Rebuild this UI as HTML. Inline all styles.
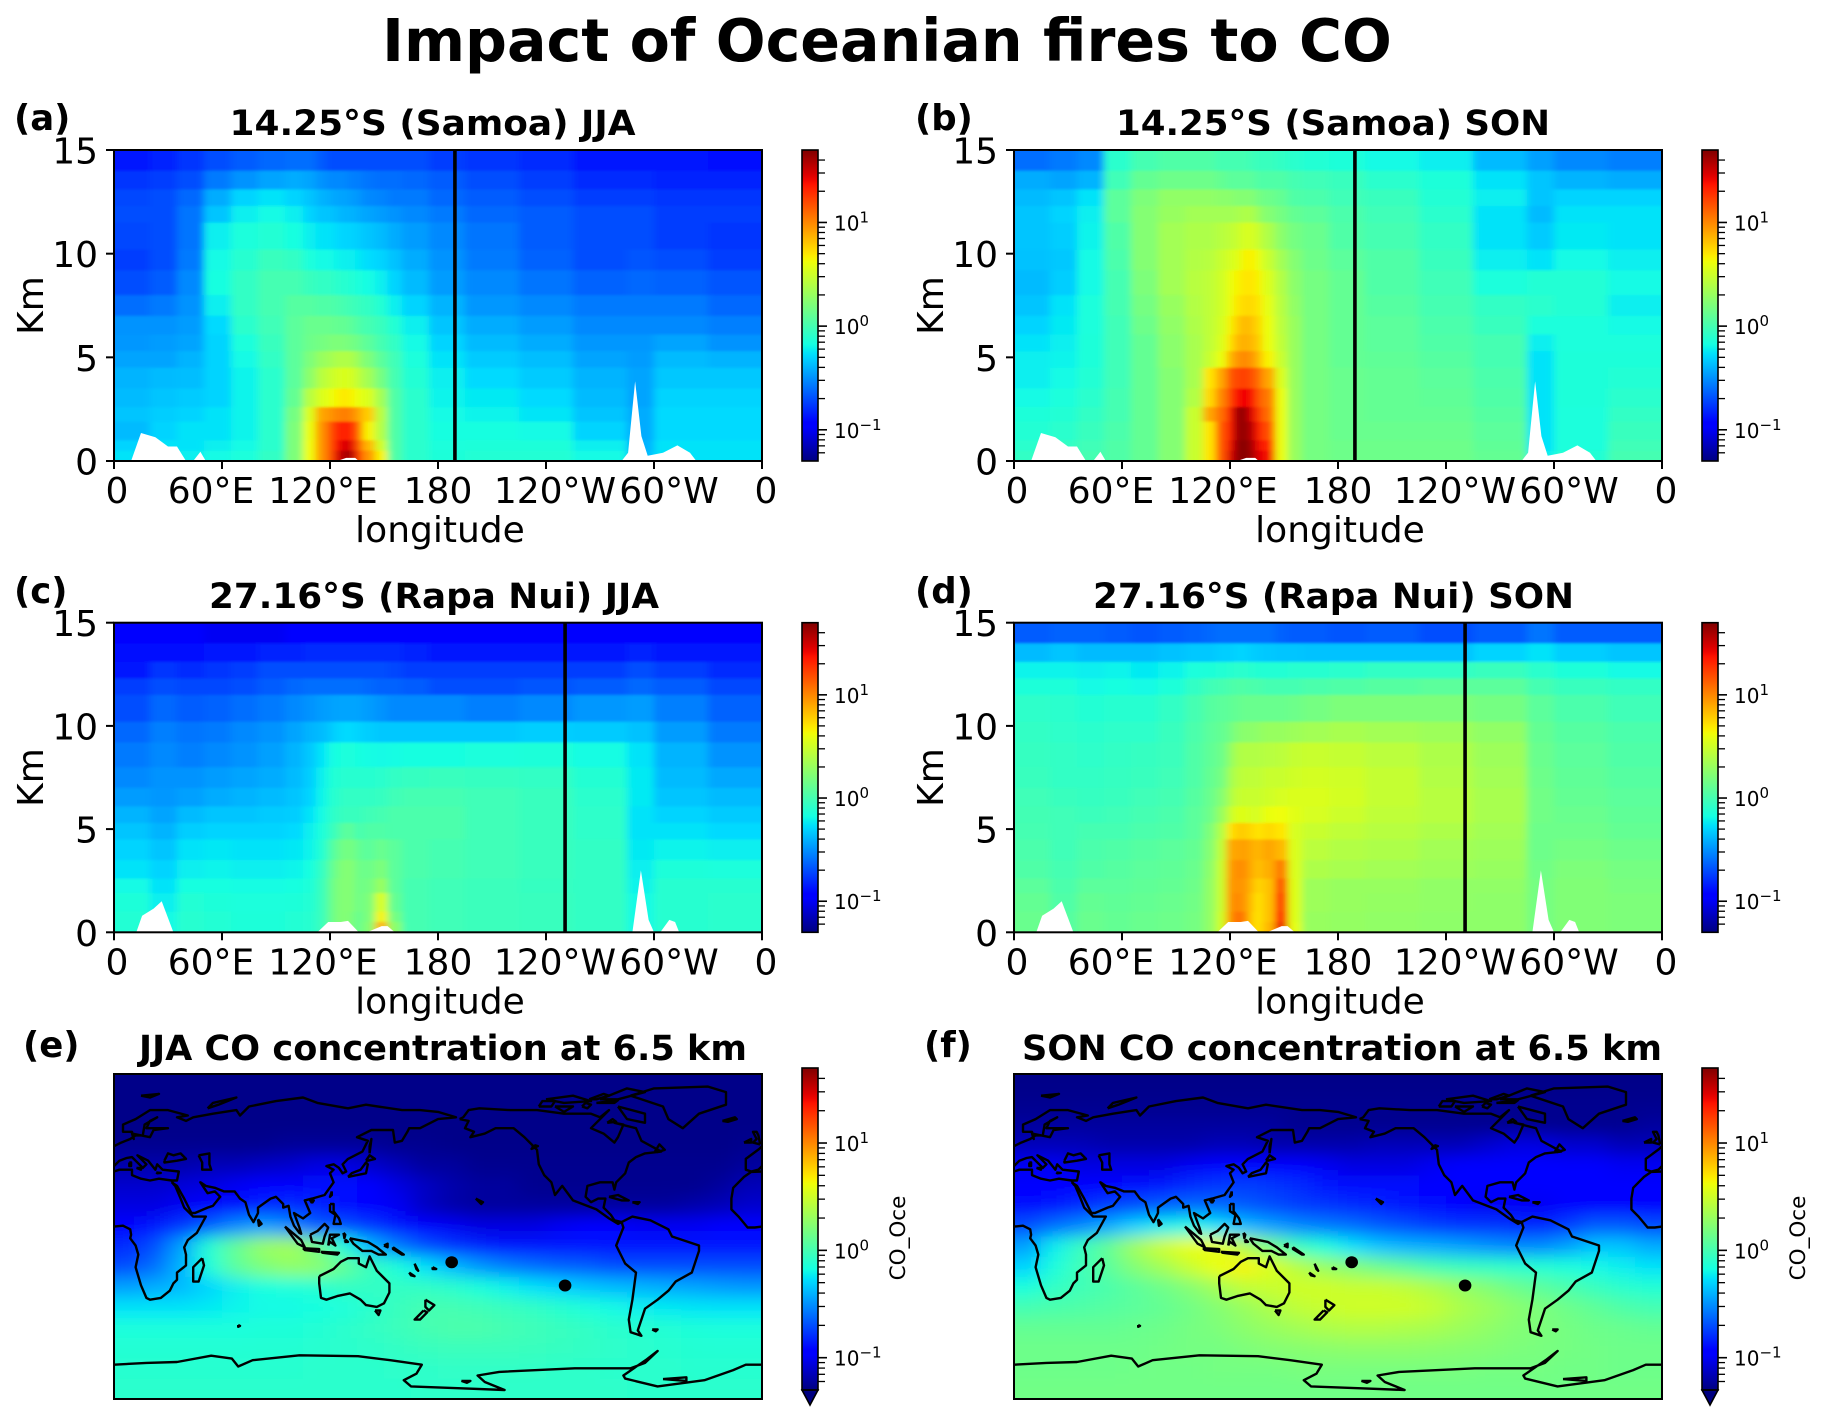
<!DOCTYPE html>
<html lang="en">
<head>
<meta charset="utf-8">
<title>Impact of Oceanian fires to CO</title>
<style>
html,body{margin:0;padding:0;background:#fff}
svg{display:block}
text{font-family:"DejaVu Sans","Liberation Sans",sans-serif;fill:#000}
.bold{font-weight:bold}
</style>
</head>
<body>
<svg id="figure" xmlns="http://www.w3.org/2000/svg" width="1827" height="1421" viewBox="0 0 1827 1421">
<defs>
<linearGradient id="jetGradient" x1="0" y1="1" x2="0" y2="0"></linearGradient>
<filter id="sectionBlur" filterUnits="userSpaceOnUse" x="0" y="0" width="1827" height="1421"><feGaussianBlur stdDeviation="4 1.2"/></filter>
<filter id="mapBlur" filterUnits="userSpaceOnUse" x="0" y="0" width="1827" height="1421"><feGaussianBlur stdDeviation="11 8"/></filter>
</defs>
<text class="bold" x="887" y="61" font-size="58.6" text-anchor="middle">Impact of Oceanian fires to CO</text>

<g id="plots"></g>

<text class="bold" x="14" y="130" font-size="35.5">(a)</text>
<text class="bold" x="915" y="130" font-size="35.5">(b)</text>
<text class="bold" x="14" y="603" font-size="35.5">(c)</text>
<text class="bold" x="915" y="603" font-size="35.5">(d)</text>
<text class="bold" x="23" y="1057" font-size="35.5">(e)</text>
<text class="bold" x="924" y="1057" font-size="35.5">(f)</text>

<text class="bold" x="229.5" y="135" font-size="35" textLength="406" lengthAdjust="spacingAndGlyphs">14.25°S (Samoa) JJA</text>
<text class="bold" x="1116" y="135" font-size="35" textLength="434" lengthAdjust="spacingAndGlyphs">14.25°S (Samoa) SON</text>
<text class="bold" x="209" y="608" font-size="35" textLength="450" lengthAdjust="spacingAndGlyphs">27.16°S (Rapa Nui) JJA</text>
<text class="bold" x="1093" y="608" font-size="35" textLength="481" lengthAdjust="spacingAndGlyphs">27.16°S (Rapa Nui) SON</text>
<text class="bold" x="139" y="1060" font-size="35" textLength="608" lengthAdjust="spacingAndGlyphs">JJA CO concentration at 6.5 km</text>
<text class="bold" x="1022" y="1060" font-size="35" textLength="640" lengthAdjust="spacingAndGlyphs">SON CO concentration at 6.5 km</text>
</svg>

<script>
/* ---------- cross-section axes ---------- */
const lonEdges = [0,20,35,50,65,80,95,105,112,118,122,126,130,134,138,145,152,160,175,195,225,255,285,300,330,360];
const altEdges = [15,14,13.1,12.3,11.5,10.2,9.2,8,7,6.1,5.3,4.5,3.5,2.6,1.9,1,0.5,0];
const xTickLons = [0,60,120,180,240,300,360];
const xTickLabels = ['0','60°E','120°E','180','120°W','60°W','0'];
const yTickKm = [0,5,10,15];
const samoaLon = 189.4;
const samoaLat = -14.25;
const samoaDotLon = 187.6;
const rapaNuiLon = 250.6;
const rapaNuiLat = -27.16;

/* ---------- terrain (white gaps) ---------- */
const terrainSamoaLon = [0,9.5,15,23,30,35,40,44,48,51,124,129,134,136,282,285.6,289.5,293,296.5,305,313,320,323.5,360];
const terrainSamoaKm  = [0,0,1.35,1.15,0.7,0.7,0,0,0.45,0,0,0.15,0.15,0,0,0.4,3.85,1.2,0.25,0.4,0.75,0.4,0,0];
const terrainRapaLon = [0,12.4,15.6,22,26.5,33,113,119,126,130,136,140.5,148.7,152,156,288,292.7,297,300,303.5,308.5,311.7,314,360];
const terrainRapaKm  = [0,0,0.8,1.15,1.5,0,0,0.5,0.5,0.55,0,0,0.3,0.3,0,0,3,0.6,0,0,0.6,0.5,0,0];

/* ---------- CO values: rows top (15 km) to bottom (0 km), columns along lonEdges ---------- */
const samoaJJA = [
[.14,.15,.17,.2,.22,.24,.25,.25,.22,.2,.2,.2,.2,.2,.2,.2,.2,.2,.18,.17,.16,.14,.14,.14,.13],
[.17,.18,.2,.27,.32,.36,.38,.36,.32,.3,.3,.3,.28,.28,.26,.25,.25,.24,.22,.2,.18,.16,.16,.15,.15],
[.19,.2,.24,.38,.5,.55,.5,.45,.4,.38,.36,.36,.34,.33,.3,.29,.27,.27,.24,.22,.2,.18,.18,.17,.17],
[.2,.2,.26,.45,.6,.65,.6,.5,.45,.45,.42,.4,.4,.38,.36,.34,.32,.3,.27,.24,.22,.2,.2,.18,.18],
[.19,.2,.26,.6,.7,.75,.68,.6,.55,.55,.52,.5,.5,.48,.45,.42,.38,.34,.3,.26,.22,.2,.2,.18,.17],
[.18,.2,.27,.65,.78,.9,.85,.7,.65,.65,.62,.6,.6,.57,.53,.5,.44,.38,.32,.27,.23,.2,.21,.2,.18],
[.2,.22,.3,.68,.85,1,1,.9,.85,.85,.8,.78,.75,.7,.66,.6,.5,.42,.34,.3,.26,.23,.24,.23,.21],
[.25,.27,.32,.6,.85,1,1.15,1.15,1.1,1.1,1.05,1,.95,.9,.85,.75,.6,.5,.4,.33,.3,.27,.27,.27,.24],
[.32,.32,.34,.52,.8,.95,1.2,1.35,1.35,1.35,1.3,1.3,1.2,1.1,1,.9,.75,.6,.45,.38,.34,.3,.3,.3,.28],
[.33,.34,.36,.5,.7,.9,1.2,1.4,1.5,1.6,1.6,1.6,1.5,1.4,1.2,1,.85,.65,.5,.42,.38,.33,.33,.36,.32],
[.36,.36,.4,.5,.65,.85,1.2,1.6,2,2.2,2.4,2.5,2.4,2,1.6,1.2,.95,.7,.55,.47,.43,.36,.34,.42,.4],
[.4,.42,.43,.5,.62,.8,1.2,1.8,2.6,3,3.3,3.5,3.3,2.8,2.2,1.5,1,.75,.6,.52,.47,.4,.36,.46,.46],
[.42,.45,.47,.5,.62,.8,1.3,2.6,3.5,4,4.5,5,4.5,4,3.5,2.2,1.1,.8,.62,.58,.52,.42,.36,.5,.5],
[.45,.48,.5,.55,.62,.8,1.5,3.5,8,9,10,11,10,8,6,2.6,1.1,.8,.65,.62,.56,.45,.38,.52,.52],
[.42,.5,.55,.55,.62,.8,1.6,4,9,14,20,22,20,12,4.5,2.5,1.1,.8,.68,.68,.65,.5,.38,.52,.52],
[.5,.55,.55,.6,.65,.8,1.6,4.2,9,14,24,30,28,14,7,3.2,1.1,.8,.7,.72,.72,.6,.4,.55,.55],
[.55,.6,.6,.65,.7,.85,1.6,4.2,9,14,28,40,38,18,9,4.5,1.1,.8,.72,.75,.75,.65,.42,.55,.55]
];
const samoaSON = [
[.25,.27,.3,.8,1,1.1,1.1,1.1,1,1,1,1,.95,.9,.9,.85,.8,.75,.72,.65,.6,.42,.35,.3,.28],
[.38,.36,.4,.95,1.3,1.4,1.4,1.4,1.3,1.2,1.2,1.2,1.2,1.1,1.1,1.1,1,.95,.9,.8,.72,.55,.45,.4,.38],
[.42,.45,.55,1.2,1.6,1.9,1.9,1.9,1.8,1.8,1.7,1.7,1.7,1.5,1.4,1.3,1.1,1.05,.95,.9,.75,.6,.45,.5,.5],
[.45,.5,.6,1.2,1.7,2,2.2,2.2,2.2,2.2,2.3,2.4,2.4,2,1.7,1.5,1.3,1.2,1.05,.95,.8,.55,.42,.55,.55],
[.45,.48,.62,1.1,1.7,2.2,2.4,2.4,2.6,2.8,3,3.4,3.4,3,2.4,1.8,1.5,1.35,1.1,1,.85,.55,.47,.58,.55],
[.44,.46,.65,1.05,1.7,2.2,2.5,2.6,3,3.4,3.6,4.5,4.6,4,3,2.2,1.7,1.4,1.2,1.1,.9,.6,.55,.65,.6],
[.42,.48,.65,1,1.6,2.2,2.6,2.8,3.2,4,4.5,5,5,4.5,3.5,2.5,1.8,1.5,1.3,1.1,.95,.7,.75,.75,.65],
[.45,.55,.7,1,1.5,2,2.5,2.8,3.2,4,5,5.5,5.5,5,3.8,2.6,1.9,1.5,1.3,1.15,1,.85,.8,.75,.6],
[.5,.58,.7,.95,1.4,1.9,2.4,2.8,3.3,4.5,6,7,6.5,5.5,4,2.7,2,1.5,1.3,1.2,1.05,.9,.7,.7,.65],
[.55,.6,.72,.95,1.3,1.8,2.3,2.8,3.5,5,7,7.5,7,6,4,2.8,2,1.5,1.3,1.2,1.1,1,.6,.7,.7],
[.6,.62,.72,.95,1.3,1.8,2.3,3,4,7,9,10,9,7,4.5,3,2,1.5,1.3,1.25,1.15,1,.55,.72,.72],
[.6,.65,.75,.95,1.3,1.7,2.3,5,8,14,16,17,15,12,8,3.5,2,1.5,1.35,1.3,1.2,1.05,.55,.72,.75],
[.65,.7,.8,1,1.3,1.7,2.5,5.5,10,16,24,26,24,14,11,4,2,1.5,1.35,1.3,1.25,1.1,.55,.72,.8],
[.72,.75,.85,1,1.3,1.7,3,8,12,22,42,45,28,18,12,4,2,1.5,1.35,1.3,1.3,1.15,.55,.7,.85],
[.75,.8,.9,1.05,1.3,1.7,3,5,14,22,42,45,35,22,15,4,2,1.5,1.35,1.35,1.35,1.2,.55,.7,.9],
[.8,.85,.95,1.1,1.3,1.7,3,5,14,25,45,48,40,25,20,4,2,1.5,1.4,1.4,1.4,1.25,.55,.7,.95],
[.85,.9,1,1.1,1.3,1.7,3,5,14,28,45,48,42,28,25,4,2,1.5,1.4,1.4,1.4,1.3,.6,.75,1]
];
const rapaJJA = [
[.11,.11,.11,.1,.1,.1,.11,.12,.12,.12,.12,.12,.12,.12,.12,.12,.12,.12,.12,.11,.11,.11,.12,.12,.12],
[.13,.13,.13,.14,.14,.15,.15,.16,.16,.16,.16,.16,.16,.16,.16,.16,.16,.15,.14,.14,.14,.14,.15,.14,.14],
[.14,.17,.16,.17,.18,.2,.2,.2,.2,.2,.2,.2,.2,.2,.2,.2,.19,.18,.18,.18,.18,.18,.2,.18,.16],
[.18,.2,.19,.19,.2,.22,.24,.25,.25,.25,.25,.25,.25,.25,.24,.23,.23,.22,.2,.2,.21,.22,.24,.22,.19],
[.2,.24,.22,.23,.25,.27,.3,.32,.34,.35,.36,.36,.36,.36,.34,.32,.3,.3,.3,.28,.3,.33,.34,.28,.23],
[.24,.28,.26,.27,.3,.32,.36,.4,.42,.46,.5,.52,.52,.5,.48,.46,.46,.46,.46,.46,.48,.47,.44,.34,.27],
[.27,.3,.28,.3,.32,.35,.4,.46,.55,.65,.68,.7,.7,.68,.66,.65,.66,.68,.68,.7,.72,.66,.55,.4,.32],
[.3,.32,.32,.34,.36,.38,.42,.48,.6,.72,.75,.78,.78,.78,.78,.8,.85,.88,.9,.88,.85,.76,.58,.42,.37],
[.34,.33,.35,.38,.4,.42,.45,.5,.62,.75,.8,.85,.85,.85,.85,.88,.95,1,1,.95,.9,.8,.58,.45,.42],
[.4,.36,.42,.45,.45,.47,.48,.55,.65,.8,.85,.9,.9,.9,.95,1,1.05,1.05,1.05,.95,.9,.82,.55,.5,.47],
[.45,.4,.48,.5,.5,.5,.52,.6,.7,.85,1,1.2,1.2,1,1.1,1.1,1.05,1.05,1.05,.95,.9,.82,.55,.55,.52],
[.5,.45,.55,.57,.55,.55,.57,.62,.75,1.05,1.3,1.5,1.5,1.3,1.2,1.35,1.2,1.05,1,.95,.9,.85,.58,.62,.6],
[.55,.5,.6,.62,.6,.6,.62,.68,.85,1.2,1.5,1.7,1.7,1.4,1.4,1.6,1.2,1.05,1,.95,.9,.85,.6,.72,.7],
[.65,.55,.68,.68,.66,.66,.68,.72,.9,1.3,1.6,1.7,1.7,1.4,1.5,2,1.2,1,.95,.92,.88,.85,.62,.78,.78],
[.72,.6,.75,.72,.7,.7,.72,.75,.9,1.3,1.6,1.7,1.7,1.4,1.6,3.5,1.3,1,.95,.92,.9,.85,.65,.78,.8],
[.75,.65,.78,.75,.72,.72,.75,.78,.9,1.3,1.6,1.7,1.6,1.3,1.6,4.5,1.5,1,.95,.92,.9,.85,.65,.78,.8],
[.75,.65,.78,.75,.72,.72,.75,.78,.9,1.3,1.6,1.7,1.6,1.3,1.7,7,1.8,1,.95,.92,.9,.85,.65,.78,.8]
];
const rapaSON = [
[.22,.23,.23,.22,.21,.22,.23,.24,.25,.25,.25,.25,.25,.25,.25,.23,.22,.22,.21,.22,.2,.22,.26,.22,.22],
[.42,.45,.42,.42,.42,.44,.46,.46,.48,.48,.5,.5,.48,.47,.46,.45,.45,.44,.44,.44,.44,.5,.55,.48,.45],
[.62,.62,.6,.62,.58,.62,.7,.72,.75,.78,.8,.8,.78,.76,.75,.75,.78,.78,.8,.85,.85,.9,.8,.72,.65],
[.72,.72,.65,.68,.65,.72,.85,.95,1,1.05,1.1,1.1,1.05,1.05,1,1,1,1.05,1.1,1.15,1.2,1.2,1,.9,.85],
[.82,.8,.75,.78,.78,.85,1,1.15,1.2,1.25,1.3,1.35,1.35,1.35,1.35,1.35,1.4,1.5,1.6,1.6,1.6,1.5,1.2,1.05,.95],
[.85,.82,.8,.82,.82,.9,1.05,1.2,1.3,1.45,1.7,1.8,1.8,1.9,2,2,2.1,2.2,2.3,2.2,2.1,1.9,1.3,1.15,1.05],
[.88,.85,.82,.85,.88,.92,1.1,1.25,1.4,1.9,2.4,2.5,2.5,2.5,2.6,2.7,2.9,3,2.9,2.7,2.4,2.1,1.35,1.2,1.1],
[.9,.85,.85,.88,.9,.95,1.1,1.3,1.5,2.2,2.6,2.8,2.8,2.8,3,3,3.2,3.3,3.2,2.9,2.5,2.2,1.4,1.25,1.15],
[.95,.9,.88,.9,.95,1,1.15,1.35,1.7,2.4,2.9,3,3,3,3.2,3.4,3.5,3.5,3.3,2.9,2.6,2.3,1.45,1.3,1.2],
[.98,.95,.92,.95,1,1.05,1.2,1.4,2,3,3.6,3.6,3.4,3.4,4,4.2,3.7,3.4,3.1,2.8,2.6,2.3,1.45,1.35,1.25],
[1,.95,1,1,1.05,1.1,1.2,1.6,2.5,5,6,6,5.5,5,5.5,5,3.4,3,2.8,2.6,2.4,2.2,1.4,1.4,1.3],
[1.05,.95,1.05,1.1,1.15,1.2,1.3,1.7,2.8,8,8,8.5,7.5,7,8,7,3.5,2.7,2.5,2.4,2.2,2.1,1.4,1.5,1.4],
[1.1,1,1.1,1.15,1.2,1.25,1.35,1.8,3,8.5,9.5,9.5,7.5,6.5,7.5,11,3.5,2.4,2.3,2.2,2.1,2,1.45,1.6,1.5],
[1.2,1.05,1.2,1.2,1.25,1.3,1.4,1.9,3,9,9,9,7,5.5,6.5,15,3.6,2.1,2,2,1.9,1.9,1.5,1.65,1.55],
[1.3,1.1,1.3,1.25,1.3,1.35,1.45,1.9,3,9,10,9,6.5,5,6.5,18,3.6,2.1,2,1.95,1.9,1.85,1.5,1.65,1.6],
[1.35,1.15,1.35,1.3,1.35,1.4,1.5,1.9,3.2,9,12,11,6,5,6.5,22,3.6,2,1.95,1.9,1.85,1.85,1.5,1.65,1.6],
[1.35,1.15,1.35,1.3,1.35,1.4,1.5,1.9,3.2,9,12,11,6,5,7,26,3.8,2,1.95,1.9,1.85,1.85,1.5,1.65,1.6]
];

/* ---------- 6.5 km maps: rows north to south, 24 columns of 15 degrees from 0 to 360 ---------- */
const mapLatEdges = [90,78.75,67.5,56.25,45,33.75,22.5,11.25,0,-11.25,-22.5,-33.75,-45,-56.25,-67.5,-78.75,-90];
const mapLonEdges = [0,15,30,45,60,75,90,105,120,135,150,165,180,195,210,225,240,255,270,285,300,315,330,345,360];
const mapJJA = [
[.053,.053,.053,.053,.053,.053,.053,.053,.053,.053,.053,.053,.053,.053,.053,.053,.053,.053,.053,.053,.053,.053,.053,.053],
[.053,.053,.053,.053,.053,.053,.053,.053,.053,.053,.053,.053,.053,.053,.053,.053,.053,.053,.053,.053,.053,.053,.053,.053],
[.053,.053,.053,.053,.053,.053,.053,.053,.053,.053,.053,.053,.053,.053,.053,.053,.053,.053,.053,.053,.053,.053,.053,.053],
[.055,.055,.055,.055,.055,.055,.058,.058,.058,.058,.055,.055,.053,.053,.053,.053,.053,.053,.053,.053,.053,.053,.053,.055],
[.065,.065,.065,.07,.07,.075,.08,.09,.09,.08,.07,.06,.06,.055,.055,.055,.055,.055,.055,.055,.055,.055,.055,.06],
[.08,.08,.085,.09,.1,.11,.12,.13,.13,.11,.09,.075,.065,.06,.06,.055,.055,.055,.055,.055,.055,.055,.06,.07],
[.09,.09,.1,.11,.13,.15,.16,.15,.13,.12,.1,.075,.065,.06,.06,.06,.06,.06,.06,.06,.06,.065,.07,.08],
[.12,.14,.17,.22,.3,.35,.3,.22,.2,.17,.14,.12,.1,.09,.09,.09,.1,.11,.11,.1,.1,.1,.11,.11],
[.16,.2,.35,.75,1.3,2,2.2,1.5,.7,.4,.27,.2,.17,.15,.14,.14,.14,.14,.14,.14,.14,.14,.14,.14],
[.2,.25,.4,.7,1.2,1.6,1.9,1.8,1.3,.9,.7,.55,.42,.33,.28,.25,.23,.22,.2,.2,.2,.2,.2,.2],
[.35,.38,.42,.5,.6,.68,.7,.75,.85,.85,.85,.85,.8,.7,.62,.55,.5,.45,.42,.4,.38,.36,.34,.33],
[.55,.55,.55,.58,.62,.65,.65,.68,.7,.8,.9,1,1,.95,.9,.85,.78,.7,.65,.6,.58,.56,.55,.55],
[.7,.7,.7,.7,.7,.72,.72,.75,.8,.85,.92,1,1.05,1.05,1,.95,.9,.85,.8,.78,.75,.72,.7,.7],
[.75,.75,.75,.75,.75,.76,.76,.78,.8,.82,.86,.9,.92,.92,.92,.9,.88,.85,.82,.8,.78,.76,.75,.75],
[.78,.78,.78,.78,.78,.78,.78,.8,.8,.8,.82,.82,.84,.84,.84,.84,.82,.82,.8,.8,.8,.78,.78,.78],
[.8,.8,.8,.8,.8,.8,.8,.8,.8,.8,.8,.82,.82,.82,.82,.82,.82,.82,.82,.8,.8,.8,.8,.8]
];
const mapSON = [
[.053,.053,.053,.053,.053,.053,.053,.053,.053,.053,.053,.053,.053,.053,.053,.053,.053,.053,.053,.053,.053,.053,.053,.053],
[.055,.055,.055,.055,.055,.055,.055,.055,.055,.055,.055,.055,.055,.055,.055,.055,.055,.055,.055,.055,.055,.055,.055,.055],
[.06,.06,.06,.06,.06,.06,.06,.06,.06,.06,.055,.055,.055,.055,.055,.055,.055,.055,.055,.055,.055,.055,.055,.06],
[.07,.07,.07,.065,.065,.065,.065,.07,.07,.065,.065,.065,.065,.07,.07,.07,.07,.08,.09,.09,.08,.08,.07,.07],
[.1,.1,.09,.09,.09,.09,.1,.11,.12,.12,.11,.1,.09,.09,.09,.1,.11,.11,.12,.12,.11,.11,.1,.1],
[.12,.12,.12,.12,.13,.14,.16,.17,.18,.17,.16,.14,.13,.13,.13,.12,.11,.11,.11,.11,.11,.11,.11,.12],
[.13,.14,.16,.18,.2,.22,.24,.24,.22,.2,.18,.17,.16,.15,.14,.13,.11,.1,.1,.1,.11,.12,.12,.12],
[.2,.25,.3,.38,.5,.6,.65,.55,.42,.35,.3,.27,.25,.22,.2,.18,.17,.17,.16,.15,.18,.22,.22,.2],
[.35,.6,.9,1.3,2.2,3.2,4,4,2.5,1.5,.9,.7,.55,.45,.4,.38,.35,.32,.3,.3,.35,.45,.45,.38],
[.5,.7,.95,1.2,1.7,2.2,3,4,4.5,3.6,2.6,2,1.7,1.4,1.2,1,.9,.85,.8,.75,.7,.65,.6,.55],
[.7,.85,.95,1.05,1.2,1.4,1.7,2.2,2.8,3,3.2,3.2,3,3,2.8,2.4,2,1.7,1.4,1.2,1.05,.9,.8,.75],
[1,1.05,1.1,1.15,1.2,1.3,1.45,1.7,2,2.4,2.8,3,3.2,3.2,3.2,2.9,2.4,2.1,1.8,1.6,1.4,1.25,1.1,1],
[1.3,1.3,1.3,1.3,1.35,1.4,1.5,1.6,1.8,2,2.2,2.4,2.5,2.5,2.4,2.3,2.1,1.9,1.7,1.6,1.5,1.4,1.35,1.3],
[1.4,1.4,1.4,1.4,1.4,1.45,1.5,1.5,1.6,1.7,1.75,1.8,1.85,1.85,1.85,1.8,1.75,1.7,1.6,1.55,1.5,1.45,1.4,1.4],
[1.4,1.4,1.4,1.4,1.42,1.45,1.45,1.5,1.5,1.5,1.55,1.55,1.55,1.55,1.55,1.55,1.55,1.5,1.5,1.5,1.45,1.45,1.4,1.4],
[1.45,1.45,1.45,1.45,1.45,1.45,1.45,1.45,1.45,1.45,1.45,1.45,1.45,1.45,1.45,1.45,1.45,1.45,1.45,1.45,1.45,1.45,1.45,1.45]
];

/* ---------- coastlines as lon,lat pairs ---------- */
const coastlines = [
[0,5.5,5,6,9,4,9.5,1,9,-1,12,-5,13.5,-10,12,-17,15,-27,18,-34,20,-35,26,-34,31,-30,33,-26,35,-24,35,-20,40,-16,40,-10,39,-6,41,-2,46,2,51,11,44,11,43,12,39,16,37,21,34,28,33,29,32,31,25,32,20,31,15,32,10,34,10,37,3,37,0,36],
[360,36,354,35.8,350,33,344,27,343,21,343,15,347,11,352,5,356,5,360,5.5],
[0,39,3,42,7,43.5,10,44,12,42,16,38,18,40,13,45,19,42,23,37,24,40,27,37,36,36,35,31,32,31],
[28,42,30,46,33,45,37,46,40,43,35,42,28,41,28,42],
[47,45,53,46,53,40,54,37,49,37,49,41,47,45],
[32,30,35,28,39,21,43,13,45,13,52,16,55,17,59,22,56,25,52,24,50,27,48,30,51,28,56,27,61,25,67,25,70,21,73,19,75,12,77.5,8,80,13,80,16,87,21,90,22,94,18,94,16,97,17,98,11,100,6,103,2,104,1.5,103,5,100,13,105,10,109,13,106,20,110,21,117,23,122,30,120,35,122,37,118,39,122,40,125,38,127,35,129,36,127,40,130,43,138,47,141,53,135,55,143,59,155,59,156,52,160,53,163,58,164,60,170,60,180,65,190,66,180,69,170,70,160,70,140,73,130,71,113,74,105,77,90,75,75,72,70,67,68,70,55,68,44,66,40,64,35,66,41,67,30,70,20,70,12,65,5,62,5,58,10,58,11,54,10,57,20,55,22,59,30,60,22,60,18,60,20,64,24,66,17,62,16,56,12,56,9,54,4,52,0,50],
[360,50,358.5,48.5,351,43,351,37,354,36,358,37,360,39],
[359,51,358,56,357,58,355,58,357,54,355,52,359,51],
[350,52,354,54,354,52,350,52],
[338,64,345,66,346,65,341,63.5,338,64],
[15,78,25,79,20,77,15,78],
[52,71,55,74,68,77,58,73,52,71],
[130,33,135,34,140,35,141,40,140,41,137,37,132,35,130,33],
[140,42,142,45,145,43,141,42,140,42],
[142,46,143,54,142,50,142,46],
[121,25,120,22,121,23,121,25],
[110,18.5,111,20,109,20,110,18.5],
[80,9.5,82,7,80.5,6,80,9.5],
[12.5,38,15,38,15,37,12.5,38],
[8.5,41,9.5,41,9.5,39,8.5,39,8.5,41],
[23.5,35.5,26,35.2,24,35,23.5,35.5],
[120,18,122,18,122,14,125,10,126,7,122,7,123,12,120,14,120,18],
[109,1,113,3,117,7,119,5,117,0,116,-4,110,-3,109,1],
[95,5.5,104,-2,106,-6,102,-4,95,5.5],
[105,-6.5,114,-7,114,-8.5,106,-7.5,105,-6.5],
[119,-5,120,1,125,1,121,-1,123,-5,120,-3,119,-5],
[115,-8.5,125,-9,124,-10,116,-9,115,-8.5],
[128,-3,130,-3,129,-2,128,-3],
[127.5,2,128.5,1,128,-1,127.5,2],
[131,-1,141,-3,146,-6,151,-10,147,-10,143,-8,138,-8,133,-4,131,-1],
[150,-5,152,-4,152,-6,150,-5],
[155,-6,161,-10,160,-10,155,-7,155,-6],
[167,-15,169,-19,168,-18,167,-15],
[177,-17,179,-18,177,-18,177,-17],
[164,-20,167,-22,165,-21.5,164,-20],
[114,-22,122,-18,126,-14,130,-12,136,-12,136,-15,140,-17,142,-11,146,-19,153,-26,153,-31,150,-37,146,-39,140,-38,137,-35,131,-31.5,124,-33,118,-35,115,-34,114,-26,114,-22],
[145,-41,148,-41,147,-43.5,145,-41],
[173,-35,178,-38,175,-41,173,-39,173,-35],
[172,-41,174,-42,170,-46,167,-46,172,-41],
[49,-12,50,-16,47,-25,44,-25,44,-17,49,-12],
[69,-49,70,-49.5,69,-50,69,-49],
[201,21,203,20,205,19,204,18,201,21],
[299,-51.5,302,-51.5,301,-52.5,299,-51.5],
[192,65,194,66,197,70,203,71,220,70,235,70,250,68,265,68,270,66,275,70,265,60,272,57,278,52,280,55,283,62,278,63,290,60,293,53,304,47,295,46,290,44,286,41,284,35,279,30,278,26,277,30,270,30,263,28,262,22,265,19,269,21,273,21,272,16,276,12,278,9,282,8,280,7,275,10,268,15,255,20,249,28,245,23,243,30,239,34,236,40,235,48,228,55,222,60,212,60,206,57,198,55,200,58,195,60,197,64,192,65],
[275,22,280,23,286,20,282,20,275,22],
[288,19,292,19,291,18,288,19],
[280,72,295,68,295,63,285,65,280,72],
[245,72,255,72,250,69,245,72],
[270,76,285,82,295,80,280,76,270,76],
[240,76,255,78,265,75,250,74,240,76],
[236,72,238,75,245,75,243,72,236,72],
[260,72,262,74,265,73,263,71,260,72],
[268,74,280,75.5,278,74,268,74],
[264,76,272,79,275,78,268,76,264,76],
[274,63,277,65,279,63.5,274,63],
[300.5,47,303,51,306,48,302,46.8,300.5,47],
[232,49,234,50.5,235.5,50,232,48.5,232,49],
[287,78,300,82,330,83,340,80,340,73,325,68,316,60,308,65,305,72,287,78],
[282,8,288,11,298,9,308,4,310,0,325,-5,325,-8,321,-20,312,-25,308,-30,302,-35,295,-40,293,-46,291,-52,293,-55,287,-53,286,-46,288,-35,290,-20,284,-15,279,-5,281,0,283,5,282,8],
[0,-71,18,-70,35,-69.5,54,-66,65.5,-67.6,69,-72,77,-68.5,103,-65.8,135.6,-66.3,153.5,-68.5,171,-71,168,-76,161,-79.6,165,-83,191,-84,217,-85,206,-80.6,202,-77,214,-75,256,-73,287,-73,295,-70,302,-63.4,296,-68,283,-77,284,-78.7,302,-83,328,-79.6,344,-74,351,-71,360,-71],
[193,-80,198,-80,196,-81,193,-80],
[305,-79,318,-78,318,-80,305,-79]
];

/* ---------- colourbar scale ---------- */
const colorMin = 0.05;
const colorMax = 50;
const cbMajorTicks = [0.1,1,10];
const cbMajorExponents = ['−1','0','1'];
const cbMinorTicks = [0.06,0.07,0.08,0.09,0.2,0.3,0.4,0.5,0.6,0.7,0.8,0.9,2,3,4,5,6,7,8,9,20,30,40];

/* ---------- layout ---------- */
const tickLabelNudge = [3,-11,-7,0,9,15,4];
const panelA = {key:'a',x:114,y:150,w:648,h:311,values:samoaJJA,tLon:terrainSamoaLon,tKm:terrainSamoaKm,station:samoaLon,cx:802};
const panelB = {key:'b',x:1014,y:150,w:648,h:311,values:samoaSON,tLon:terrainSamoaLon,tKm:terrainSamoaKm,station:samoaLon,cx:1702};
const panelC = {key:'c',x:114,y:622.7,w:648,h:309.6,values:rapaJJA,tLon:terrainRapaLon,tKm:terrainRapaKm,station:rapaNuiLon,cx:802};
const panelD = {key:'d',x:1014,y:622.7,w:648,h:309.6,values:rapaSON,tLon:terrainRapaLon,tKm:terrainRapaKm,station:rapaNuiLon,cx:1702};
const panelE = {key:'e',x:114,y:1074,w:648,h:325,values:mapJJA,cx:802};
const panelF = {key:'f',x:1014,y:1074,w:648,h:325,values:mapSON,cx:1702};

const NS = 'http://www.w3.org/2000/svg';
const root = document.getElementById('plots');
function mk(tag, attrs, parent){
  const el = document.createElementNS(NS, tag);
  for (const k in attrs) el.setAttribute(k, attrs[k]);
  parent.appendChild(el);
  return el;
}
function lerp(t, pts){
  if (t <= pts[0][0]) return pts[0][1];
  for (let i = 1; i < pts.length; i++){
    if (t <= pts[i][0]) return pts[i-1][1] + (pts[i][1]-pts[i-1][1])*(t-pts[i-1][0])/(pts[i][0]-pts[i-1][0]);
  }
  return pts[pts.length-1][1];
}
function jet(t){
  const r = lerp(t, [[0,0],[.35,0],[.66,1],[.89,1],[1,.5]]);
  const g = lerp(t, [[0,0],[.125,0],[.375,1],[.64,1],[.91,0],[1,0]]);
  const b = lerp(t, [[0,.5],[.11,1],[.34,1],[.65,0],[1,0]]);
  return 'rgb('+Math.round(r*255)+','+Math.round(g*255)+','+Math.round(b*255)+')';
}
function colorT(v){
  const t = (Math.log10(v)-Math.log10(colorMin))/(Math.log10(colorMax)-Math.log10(colorMin));
  return Math.max(0, Math.min(1, t));
}
function colorOf(v){ return jet(colorT(v)); }

const jetGradient = document.getElementById('jetGradient');
for (let i = 0; i <= 64; i++){
  mk('stop', {offset:(i/64), 'stop-color':jet(i/64)}, jetGradient);
}

function xOf(p, lon){ return p.x + lon/360*p.w; }
function yOfKm(p, km){ return p.y + p.h - km/15*p.h; }
function yOfLat(p, lat){ return p.y + (90-lat)/180*p.h; }

function addClip(p){
  const defs = document.querySelector('defs');
  const cp = mk('clipPath', {id:'clip-'+p.key}, defs);
  mk('rect', {x:p.x, y:p.y, width:p.w, height:p.h}, cp);
}

function drawCells(p, xEdges, yEdges, yFn, filterId, group){
  const blurGroup = mk('g', {filter:'url(#'+filterId+')'}, group);
  
  
  p.values.forEach(function(row, r){
    row.forEach(function(v, c){
      let x0 = xOf(p, xEdges[c]), x1 = xOf(p, xEdges[c+1]);
      let y0 = yFn(p, yEdges[r]), y1 = yFn(p, yEdges[r+1]);
      if (c === 0) x0 -= 40;
      if (c === row.length-1) x1 += 40;
      if (r === 0) y0 -= 40;
      if (r === p.values.length-1) y1 += 40;
      const cell = mk('rect', {x:x0, y:y0, width:x1-x0+0.6, height:y1-y0+0.6, fill:colorOf(v)}, blurGroup);
      
      
    });
  });
}

function drawColorbar(p, group, top, bottom, extend){
  const x = p.cx, w = 16;
  const cb = mk('g', {}, group);
  
  
  const bar = mk('rect', {x:x, y:top, width:w, height:bottom-top, fill:'url(#jetGradient)'}, cb);
  
  
  const yv = function(v){ return bottom - colorT(v)*(bottom-top); };
  if (extend){
    const tip = mk('polygon', {points:x+','+bottom+' '+(x+w)+','+bottom+' '+(x+w/2)+','+(bottom+15), fill:'#000080', stroke:'#000', 'stroke-width':1.6}, cb);
    
    
  }
  const frame = mk('rect', {x:x, y:top, width:w, height:bottom-top, fill:'none', stroke:'#000', 'stroke-width':1.6}, cb);
  
  
  cbMinorTicks.forEach(function(v){
    const t = mk('line', {x1:x+w, x2:x+w+7, y1:yv(v), y2:yv(v), stroke:'#000', 'stroke-width':1.3}, cb);
    
    
  });
  cbMajorTicks.forEach(function(v, i){
    const t = mk('line', {x1:x+w, x2:x+w+9, y1:yv(v), y2:yv(v), stroke:'#000', 'stroke-width':1.6}, cb);
    
    
    const lab = mk('text', {x:x+w+16, y:yv(v)+8, 'font-size':20}, cb);
    
    
    lab.textContent = '10';
    const sup = mk('tspan', {dy:-8, 'font-size':15}, lab);
    sup.textContent = cbMajorExponents[i];
  });
}

function drawSection(p){
  const g = mk('g', {}, root);
  
  
  addClip(p);
  const clip = mk('g', {'clip-path':'url(#clip-'+p.key+')'}, g);
  drawCells(p, lonEdges, altEdges, yOfKm, 'sectionBlur', clip);
  let d = '';
  p.tLon.forEach(function(lon, i){
    d += (i ? 'L' : 'M') + xOf(p, lon).toFixed(1) + ' ' + yOfKm(p, p.tKm[i]).toFixed(1);
  });
  const terr = mk('path', {d:d+'Z', fill:'#fff'}, clip);
  
  
  const stn = mk('line', {x1:xOf(p,p.station), x2:xOf(p,p.station), y1:p.y, y2:p.y+p.h, stroke:'#000', 'stroke-width':3.6}, g);
  
  
  const frame = mk('rect', {x:p.x, y:p.y, width:p.w, height:p.h, fill:'none', stroke:'#000', 'stroke-width':2}, g);
  
  
  const base = p.y + p.h;
  xTickLons.forEach(function(lon, i){
    const t = mk('line', {x1:xOf(p,lon), x2:xOf(p,lon), y1:base, y2:base+8, stroke:'#000', 'stroke-width':2}, g);
    
    
    const lab = mk('text', {x:xOf(p,lon)+tickLabelNudge[i], y:base+42, 'font-size':36, 'text-anchor':'middle'}, g);
    
    
    lab.textContent = xTickLabels[i];
  });
  yTickKm.forEach(function(km){
    const t = mk('line', {x1:p.x-8, x2:p.x, y1:yOfKm(p,km), y2:yOfKm(p,km), stroke:'#000', 'stroke-width':2}, g);
    
    
    const lab = mk('text', {x:p.x-16, y:yOfKm(p,km)+13.5, 'font-size':36, 'text-anchor':'end'}, g);
    
    
    lab.textContent = String(km);
  });
  const xt = mk('text', {x:p.x+p.w/2+2, y:base+81, 'font-size':36, 'text-anchor':'middle'}, g);
  
  
  xt.textContent = 'longitude';
  const yx = p.x-71, yy = p.y+p.h/2;
  const yt = mk('text', {x:yx, y:yy, 'font-size':36, 'text-anchor':'middle', transform:'rotate(-90 '+yx+' '+yy+')'}, g);
  
  
  yt.textContent = 'Km';
  drawColorbar(p, g, p.y, p.y+p.h, false);
}

function drawMap(p){
  const g = mk('g', {}, root);
  
  
  addClip(p);
  const clip = mk('g', {'clip-path':'url(#clip-'+p.key+')'}, g);
  drawCells(p, mapLonEdges, mapLatEdges, yOfLat, 'mapBlur', clip);
  const coast = mk('g', {fill:'none', stroke:'#000', 'stroke-width':2.4, 'stroke-linejoin':'round'}, clip);
  
  
  coastlines.forEach(function(line){
    let d = '';
    for (let i = 0; i < line.length; i += 2){
      d += (i ? 'L' : 'M') + xOf(p, line[i]).toFixed(1) + ' ' + yOfLat(p, line[i+1]).toFixed(1);
    }
    const path = mk('path', {d:d}, coast);
    
    
  });
  const dotA = mk('ellipse', {cx:xOf(p,samoaDotLon), cy:yOfLat(p,samoaLat), rx:6.3, ry:6, fill:'#000'}, g);
  
  
  const dotB = mk('ellipse', {cx:xOf(p,rapaNuiLon), cy:yOfLat(p,rapaNuiLat), rx:6.3, ry:6, fill:'#000'}, g);
  
  
  const frame = mk('rect', {x:p.x, y:p.y, width:p.w, height:p.h, fill:'none', stroke:'#000', 'stroke-width':2}, g);
  
  
  drawColorbar(p, g, 1068, 1390, true);
  const lx = p.cx + 103, ly = 1238;
  const lab = mk('text', {x:lx, y:ly, 'font-size':21.5, 'text-anchor':'middle', transform:'rotate(-90 '+lx+' '+ly+')'}, g);
  
  
  lab.textContent = 'CO_Oce';
}

drawSection(panelA);
drawSection(panelB);
drawSection(panelC);
drawSection(panelD);
drawMap(panelE);
drawMap(panelF);
</script>
</body>
</html>
